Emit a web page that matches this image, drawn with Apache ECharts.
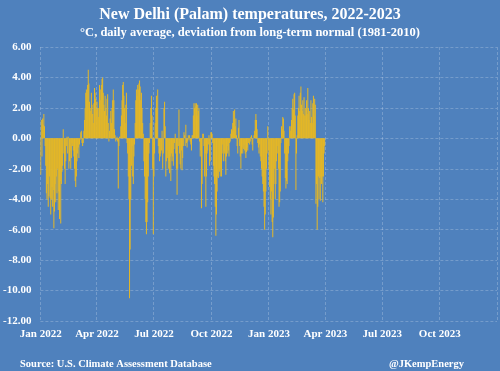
<!DOCTYPE html>
<html><head><meta charset="utf-8">
<script src="https://cdn.jsdelivr.net/npm/echarts@6/dist/echarts.min.js"></script>
<style>html,body{margin:0;padding:0;background:#4F81BD;}#c{width:500px;height:371px;}</style>
</head><body><div id="c"></div>
<script>
// Daily deviation (°C) from 1981-2010 normal, by month
const jan2022 = [-2.4, 1.2, -1.2, 1.3, 0.9, 1.6, 0.8, -0.5, -1.8, -3.6, -4.0, -3.0, -4.5, -3.8, -2.5, -3.9, -5.0, -4.0, -3.2, -4.5, -3.4, -5.9, -4.8, -3.0, -4.2, -2.5, -3.6, -2.0, -4.7, -3.5, -5.3];
const feb2022 = [-2.8, -5.6, -3.0, -2.2, -1.8, 0.6, -1.0, -2.0, -3.0, -1.5, -0.5, 0.1, -1.0, 0.1, -2.0, -1.5, -0.8, -2.0, -1.3, -0.3, -0.5, -0.8, -1.2, -2.0, -2.8, -3.2, -2.5, -1.5];
const mar2022 = [-1.0, -0.6, -1.3, -0.4, -0.1, 0.4, 0.5, -0.3, -0.5, -0.3, 0.5, 1.2, 2.0, 3.0, 3.2, 2.5, 3.5, 4.5, 3.6, 2.4, 2.0, 1.8, 3.0, 2.2, 1.6, 1.0, 2.3, 3.3, 3.0, 2.6, 1.9];
const apr2022 = [2.4, 2.0, 1.4, 2.0, 3.5, 2.5, 3.2, 3.5, 3.9, 4.0, 3.0, 2.2, 1.8, 2.8, 2.0, 1.5, 2.6, 2.9, 1.0, -0.2, 0.5, 1.3, 1.8, 1.0, 2.0, 2.5, 3.2, 2.5, 0.6, 0.2];
const may2022 = [-0.2, -0.1, 0.1, -0.2, -3.3, -0.5, 0.1, 0.1, 0.8, 1.5, 2.5, 3.5, 3.7, 2.8, 2.0, 1.0, 2.2, 3.0, -0.3, -1.0, -2.5, -4.0, -10.5, -7.3, -4.0, -1.8, -0.5, -2.5, -3.0, -1.2, -0.4];
const jun2022 = [1.0, 2.5, 3.2, 2.8, 3.5, 3.2, 3.6, 3.8, 3.4, 2.5, 3.0, 2.0, 1.0, 0.3, -1.5, -2.5, -4.0, -5.5, -6.3, -5.5, -4.2, -2.5, -1.0, -0.3, 1.0, 2.0, 2.8, 1.5, -2.0, -6.3];
const jul2022 = [-2.5, -1.0, 1.0, 2.0, 2.8, 2.0, 3.2, -0.5, -1.0, -1.5, -1.2, -1.0, -0.8, 0.5, -2.0, -1.0, 2.0, 2.4, 0.8, -2.5, -1.5, -0.8, -1.3, -2.0, -1.5, -2.3, -1.2, -2.8, -1.0, -1.5, -1.2];
const aug2022 = [-1.8, -0.7, -0.3, 0.3, -1.0, -2.0, -3.7, -2.0, -0.5, 1.9, -1.0, -1.7, -2.0, -0.8, -2.1, -1.3, -0.5, 0.4, 0.2, -0.5, 0.9, -0.3, -0.6, -0.2, 0.2, -0.1, 0.2, -0.2, -0.4, -0.8, 0.2];
const sep2022 = [0.2, 1.5, 2.3, 2.0, 2.3, 2.1, 2.3, 1.5, 2.2, 1.8, 2.0, -0.2, -1.2, -0.8, -4.6, -3.0, 0.3, 0.3, -0.5, -2.5, -1.0, -4.5, -2.5, -1.0, -0.8, -0.4, 0.2, -1.8, -1.5, 0.4];
const oct2022 = [0.4, 0.3, -0.3, -1.8, -2.5, -3.0, -4.5, -6.4, -5.0, -3.5, -2.5, -2.6, -2.0, -2.2, -2.5, -2.0, -2.5, -1.0, -0.4, -1.5, -0.8, -1.0, -1.5, -2.4, -1.2, -0.5, -1.0, -0.8, -1.2, -0.3, -0.2];
const nov2022 = [0.3, 0.6, 0.5, 1.0, 1.8, 1.2, 1.9, 0.8, 1.3, 0.2, -0.5, -1.0, 0.7, 1.2, -0.5, -1.2, -2.0, -1.0, -0.6, -1.0, -0.7, -0.4, -0.8, -1.0, -1.3, -0.9, -0.6, -0.8, -0.3, -0.1];
const dec2022 = [-0.4, -0.2, 0.1, 0.2, -0.4, -0.8, 0.0, 0.2, 0.5, 1.2, 1.6, 1.2, 0.6, -0.3, -0.6, -1.0, -0.4, -1.2, -1.5, -2.0, -2.5, -3.0, -3.5, -4.5, -6.0, -5.0, -3.5, -2.0, -1.0, 0.8, -0.8];
const jan2023 = [-2.0, -3.2, -4.0, -5.0, -3.5, -5.5, -6.5, -5.2, -3.0, -2.0, -4.0, -3.0, -1.5, -0.5, -1.0, -2.0, -4.5, -4.2, -3.5, -0.3, 0.8, 0.6, 1.4, 1.3, 0.5, -1.0, -2.6, -3.3, -2.8, -3.0, -1.5];
const feb2023 = [-1.0, -0.5, 0.8, 0.5, 0.8, 1.2, 2.0, 2.6, 1.9, 2.9, 3.0, 1.5, -3.4, -1.0, 0.2, 1.5, 2.0, 2.8, 1.8, 3.0, 3.4, 2.2, 1.8, 2.5, 1.6, 2.7, 1.5, 2.0];
const mar2023 = [1.5, 2.5, 1.6, 3.3, 2.0, 1.2, 1.8, 1.0, 2.5, 1.4, 1.0, 2.3, 2.8, 1.5, 2.6, 2.2, -4.3, -3.0, -6.0, -4.5, -2.5, -4.0, -2.6, -4.1, -2.5, -3.0, -2.5, -4.2, -2.5, -1.0, -0.5];

const tickDates = ['2022-01-01','2022-04-01','2022-07-01','2022-10-01','2023-01-01','2023-04-01','2023-07-01','2023-10-01'];
const tickLabels = ['Jan 2022','Apr 2022','Jul 2022','Oct 2022','Jan 2023','Apr 2023','Jul 2023','Oct 2023'];

const days = [];
for (let t = Date.UTC(2022,0,1); t < Date.UTC(2024,0,1); t += 86400000) days.push(new Date(t).toISOString().slice(0,10));
const values = [].concat(jan2022, feb2022, mar2022, apr2022, may2022, jun2022, jul2022, aug2022, sep2022, oct2022, nov2022, dec2022, jan2023, feb2023, mar2023);

const isTick = (i, v) => tickDates.indexOf(v) >= 0;
const F = 'Liberation Serif';
const grid = 'rgba(255,255,255,0.22)';

const chart = echarts.init(document.getElementById('c'), null, {renderer: 'canvas'});
chart.setOption({
  animation: false,
  backgroundColor: '#4F81BD',
  title: [
    {text: 'New Delhi (Palam) temperatures, 2022-2023', subtext: '°C, daily average, deviation from long-term normal (1981-2010)',
     left: 'center', top: 2, itemGap: 3,
     textStyle: {fontFamily: F, fontWeight: 'bold', fontSize: 16, color: '#fff'},
     subtextStyle: {fontFamily: F, fontWeight: 'bold', fontSize: 12.5, color: '#fff'}},
    {text: 'Source: U.S. Climate Assessment Database', left: 15, top: 354,
     textStyle: {fontFamily: F, fontWeight: 'bold', fontSize: 10.5, color: '#fff'}},
    {text: '@JKempEnergy', right: 31, top: 354,
     textStyle: {fontFamily: F, fontWeight: 'bold', fontSize: 10.5, color: '#fff'}}
  ],
  grid: {left: 37, right: 3, top: 47, bottom: 50},
  xAxis: {
    type: 'category', data: days, boundaryGap: true,
    axisLine: {show: false}, axisTick: {show: false},
    axisLabel: {interval: isTick, margin: 8, fontFamily: F, fontWeight: 'bold', fontSize: 11, color: '#fff',
      formatter: v => tickLabels[tickDates.indexOf(v)] || ''},
    splitLine: {show: true, interval: isTick, lineStyle: {color: grid, type: [3, 2], width: 1}}
  },
  yAxis: {
    type: 'value', min: -12, max: 6, interval: 2,
    axisLine: {show: false}, axisTick: {show: false},
    axisLabel: {margin: 9, fontFamily: F, fontWeight: 'bold', fontSize: 11, color: '#fff', formatter: v => v.toFixed(2)},
    splitLine: {lineStyle: {color: grid, type: [3, 2], width: 1}}
  },
  series: [{type: 'bar', data: values, barWidth: 1, itemStyle: {color: '#E6B825'}}]
});
</script></body></html>
